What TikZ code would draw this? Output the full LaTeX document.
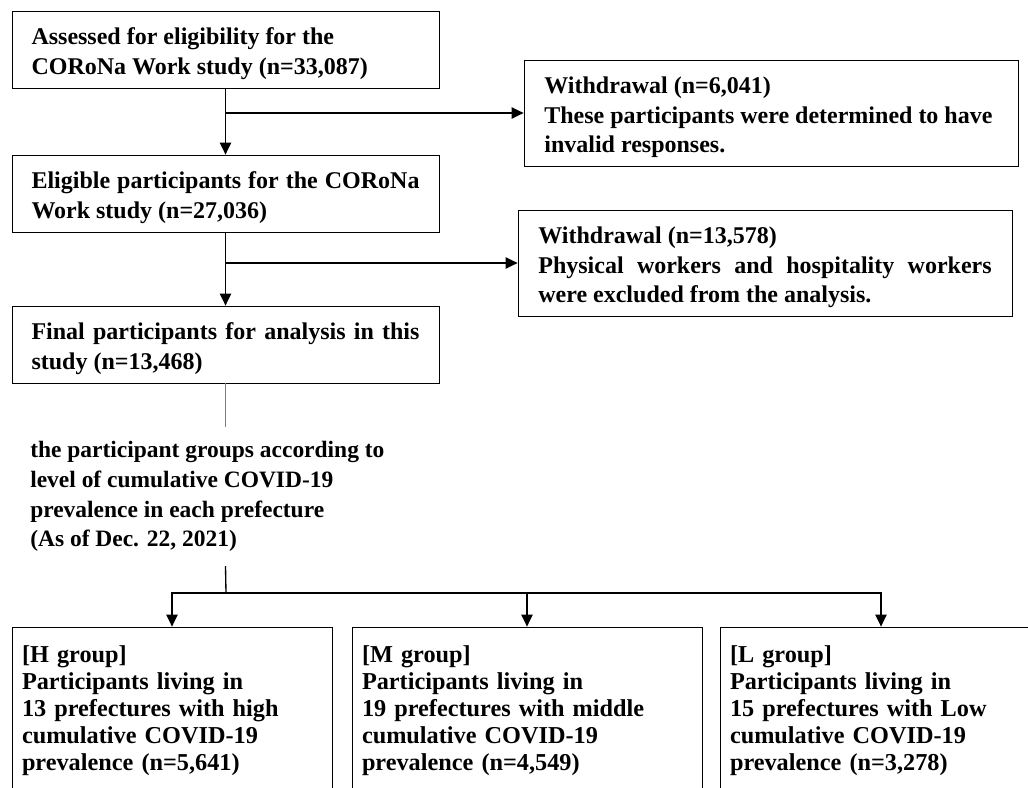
\documentclass[tikz,border=0pt]{standalone}
\usepackage{fontspec}
\setmainfont{Liberation Serif}
\usetikzlibrary{positioning,arrows.meta}

\begin{document}
\begin{tikzpicture}[x=0.75pt,y=-0.75pt,on grid,
	box/.style={draw,line width=0.6pt,inner xsep=14.6pt,inner ysep=0pt,text width=291pt,minimum height=57.75pt,align=justify,font=\fontsize{18pt}{22.3pt}\selectfont\bfseries,execute at begin node=\rule{0pt}{19pt}},
	sidebox/.style={box,text width=340pt,inner xsep=15.25pt,minimum height=79.5pt},
	groupbox/.style={draw,line width=0.6pt,inner xsep=7.5pt,minimum height=126pt,align=left,font=\fontsize{18.2pt}{20.25pt}\selectfont\bfseries},
	flow/.style={line width=1pt,-{Triangle[length=9pt,width=8.5pt]}}]
		\clip (0,0) rectangle (1028,788);
		\node[box] (assessed) at (225.5,49.5) {Assessed for eligibility for the\\CORoNa Work study (n=33,087)};
		\node[box,below=108pt of assessed] (eligible) {Eligible participants for the CORoNa\linebreak Work study (n=27,036)};
		\node[box,below=113.25pt of eligible] (final) {Final participants for analysis in this\linebreak study (n=13,468)};
		\node[sidebox] (invalid) at (771,113) {Withdrawal (n=6,041)\\These participants were determined to have\\invalid responses.};
		\node[sidebox] (excluded) at (765,263) {Withdrawal (n=13,578)\\Physical workers and hospitality workers\linebreak were excluded from the analysis.};
		\node[anchor=north west,inner xsep=0pt,inner ysep=10.5pt,align=left,font=\fontsize{17.6pt}{22.3pt}\selectfont\bfseries] (groups) at (30,427) {the participant groups according to\\level of cumulative COVID-19\\prevalence in each prefecture\\(As of Dec. 22, 2021)};
		\coordinate (split) at (226,593);
		\node[groupbox,text width=225pt] (high) at (172,711) {[H group]\\Participants living in\\13 prefectures with high\\cumulative COVID-19\\prevalence (n=5,641)};
		\node[groupbox,text width=247.5pt] (middle) at (527,711) {[M group]\\Participants living in\\19 prefectures with middle\\cumulative COVID-19\\prevalence (n=4,549)};
		\node[groupbox,text width=226.5pt] (low) at (881,711) {[L group]\\Participants living in\\15 prefectures with Low\\cumulative COVID-19\\prevalence (n=3,278)};
		\draw[flow] (assessed) -- (eligible);
		\draw[flow] (assessed.south |- invalid.west) -- (invalid.west);
		\draw[flow] (eligible) -- (final);
		\draw[flow] (eligible.south |- excluded.west) -- (excluded.west);
		\draw[line width=0.4pt,gray] (final) -- (final.south |- groups.north);
		\draw[line width=1pt] (final.south |- groups.south) -- (split);
		\draw[flow] (split) -| (high);
		\draw[flow] (split) -| (middle);
		\draw[flow] (split) -| (low);
\end{tikzpicture}
\end{document}
